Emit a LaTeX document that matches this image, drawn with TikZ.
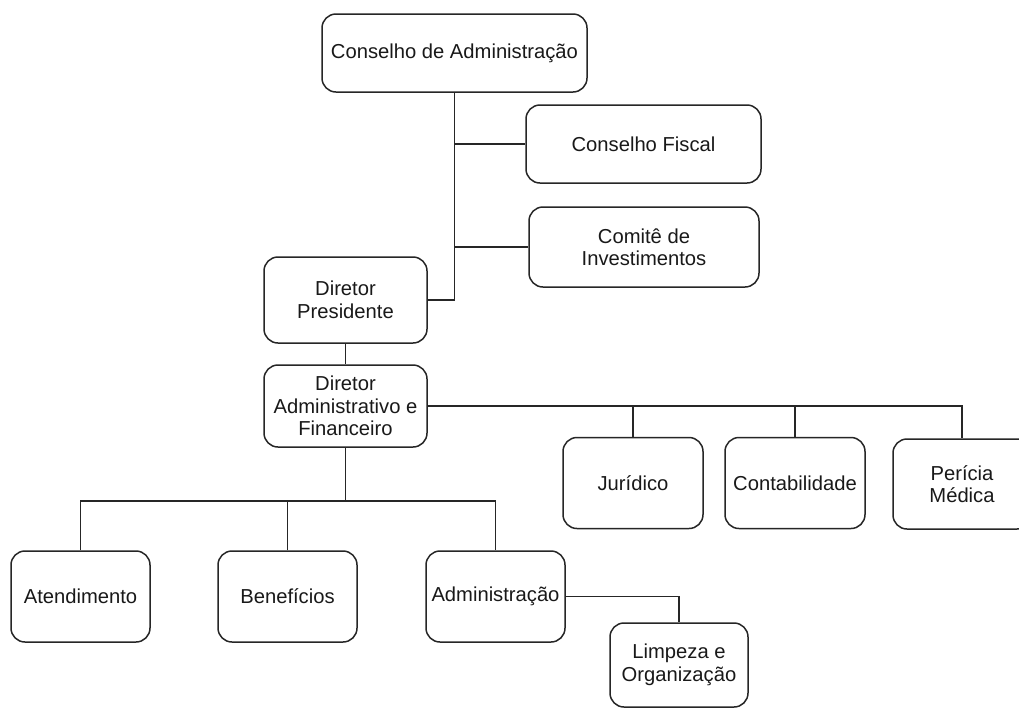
\documentclass[tikz,border=0pt]{standalone}
\usepackage{fontspec}
\setmainfont{Liberation Sans}
\begin{document}
\begin{tikzpicture}[x=1pt,y=-1pt,
  box/.style={draw=black!85, line width=1.5pt, rounded corners=14pt, inner sep=0pt,
    align=center, text=black!90, font=\fontsize{20.2}{22.5}\selectfont},
  link/.style={draw=black!85, line width=1.6pt}]
\clip (0,0) rectangle (1019,710);
\fill[white] (0,0) rectangle (1019,710);
\node[box, minimum width=265pt, minimum height=78pt] (ca) at (454.5,53) {Conselho de Administração};
\node[box, minimum width=235pt, minimum height=78pt] (cf) at (643.5,144) {Conselho Fiscal};
\node[box, minimum width=230pt, minimum height=80pt] (ci) at (644,247) {Comitê de\\Investimentos};
\node[box, minimum width=163pt, minimum height=86pt] (dp) at (345.5,300) {Diretor\\Presidente};
\node[box, minimum width=163pt, minimum height=82pt] (daf) at (345.5,406) {Diretor\\Administrativo e\\Financeiro};
\node[box, minimum width=140pt, minimum height=91pt] (jur) at (633,483) {Jurídico};
\node[box, minimum width=140pt, minimum height=91pt] (cont) at (795,483) {Contabilidade};
\node[box, minimum width=138pt, minimum height=90pt] (per) at (962,484) {Perícia\\Médica};
\node[box, minimum width=139pt, minimum height=91pt] (aten) at (80.5,596.5) {Atendimento};
\node[box, minimum width=139pt, minimum height=91pt] (ben) at (287.5,596.5) {Benefícios};
\node[box, minimum width=139pt, minimum height=91pt] (adm) at (495.5,596.5) {Administração};
\node[box, minimum width=138pt, minimum height=84pt] (limp) at (679,665) {Limpeza e\\Organização};
\coordinate (bus) at (345.5,501);
\draw[link] (ca.south) |- (dp.east);
\draw[link] (ca.south |- cf.west) -- (cf.west);
\draw[link] (ca.south |- ci.west) -- (ci.west);
\draw[link] (dp.south) -- (daf.north);
\draw[link] (daf.east) -| (per.north);
\draw[link] (jur.north) -- (jur.north |- daf.east);
\draw[link] (cont.north) -- (cont.north |- daf.east);
\draw[link] (daf.south) -- (bus);
\draw[link] (aten.north) |- (bus) -| (adm.north);
\draw[link] (ben.north) -- (ben.north |- bus);
\draw[link] (adm.east) -| (limp.north);
\end{tikzpicture}
\end{document}
